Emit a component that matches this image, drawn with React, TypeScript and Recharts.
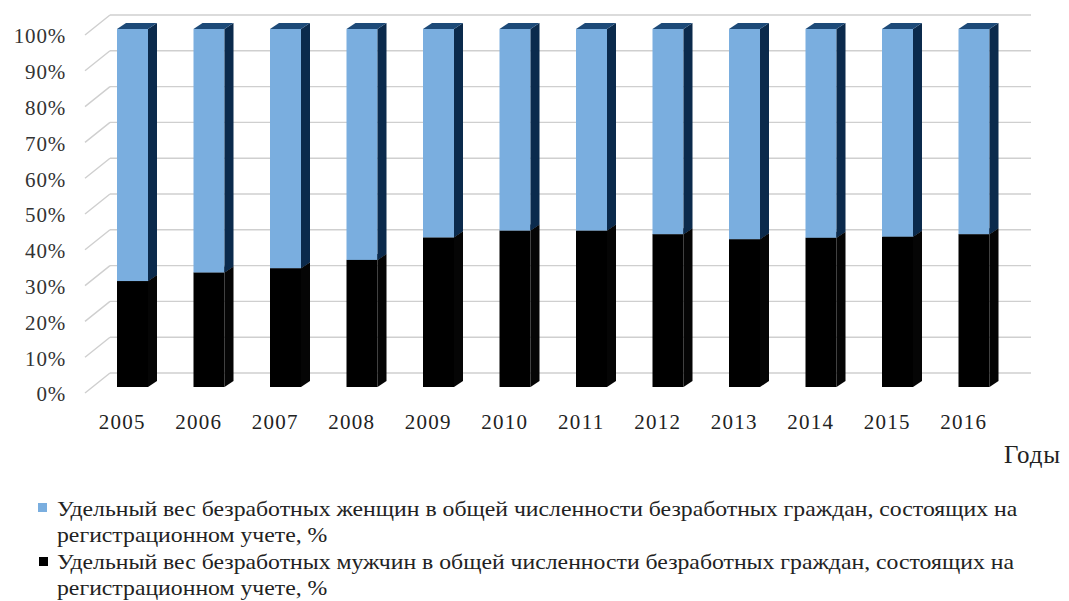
import React from 'react';
import { BarChart, Bar, XAxis, YAxis, CartesianGrid } from 'recharts';

const years = ['2005', '2006', '2007', '2008', '2009', '2010', '2011', '2012', '2013', '2014', '2015', '2016'];
const menShare = [29.6, 32.0, 33.2, 35.5, 41.8, 43.7, 43.7, 42.7, 41.3, 41.7, 42.0, 42.7];
const womenShare = [70.4, 68.0, 66.8, 64.5, 58.2, 56.3, 56.3, 57.3, 58.7, 58.3, 58.0, 57.3];
const yTicks = [0, 10, 20, 30, 40, 50, 60, 70, 80, 90, 100];
const womenLabel = 'Удельный вес безработных женщин в общей численности безработных граждан, состоящих на';
const menLabel = 'Удельный вес безработных мужчин в общей численности безработных граждан, состоящих на';
const labelTail = 'регистрационном учете, %';
const axisTitle = 'Годы';

const data = years.map((year, i) => ({ year, men: menShare[i], women: womenShare[i] }));

const FONT = '"Liberation Serif", "Times New Roman", serif';
const DX = 9;
const DY = 6;

const makeShape = (front: string, side: string, top: string) => (props: any) => {
  const { x, y, width, height } = props;
  if (width == null || height == null) return <g />;
  const r = x + width;
  return (
    <g>
      <rect x={x} y={y} width={width} height={height} fill={front} />
      <polygon
        points={`${r},${y} ${r + DX},${y - DY} ${r + DX},${y + height - DY} ${r},${y + height}`}
        fill={side}
      />
      <polygon
        points={`${x},${y} ${x + DX},${y - DY} ${r + DX},${y - DY} ${r},${y}`}
        fill={top}
      />
    </g>
  );
};

const gridLine = (props: any) => {
  const { x1, y1, x2, key } = props;
  return (
    <g key={key}>
      <line x1={x1 - 9} y1={y1 + 6} x2={x1 + 16} y2={y1 - 14} stroke="#cfcfcf" strokeWidth={1.4} />
      <line x1={x1 + 16} y1={y1 - 14} x2={x2 + 19} y2={y1 - 14} stroke="#cfcfcf" strokeWidth={1.4} />
    </g>
  );
};

const YTick = (props: any) => {
  const { y, payload } = props;
  return (
    <text x={66} y={y + 7} dy="0.35em" textAnchor="end" fontFamily={FONT} fontSize={21} fill="#333" letterSpacing={0.8}>
      {`${payload.value}%`}
    </text>
  );
};

const XTick = (props: any) => {
  const { x, y, payload } = props;
  return (
    <text x={x - 10} y={y + 35} dy="0.35em" textAnchor="middle" fontFamily={FONT} fontSize={21} fill="#222" letterSpacing={1.3}>
      {payload.value}
    </text>
  );
};

export default function App() {
  const legendText: React.CSSProperties = {
    position: 'absolute',
    left: 57,
    fontFamily: FONT,
    fontSize: 21,
    color: '#222',
    whiteSpace: 'nowrap',
    lineHeight: '26px',
    transformOrigin: 'left center',
    transform: 'scaleX(1.13)',
  };
  return (
    <div style={{ position: 'absolute', left: 0, top: 0, width: 1069, height: 601, background: '#fff', overflow: 'hidden' }}>
      <BarChart
        width={1069}
        height={601}
        data={data}
        margin={{ top: 29, right: 57, bottom: 184, left: 34 }}
        barSize={31}
      >
        <CartesianGrid horizontal={gridLine} vertical={false} />
        <YAxis
          width={60}
          domain={[0, 100]}
          ticks={yTicks}
          axisLine={false}
          tickLine={false}
          tickSize={0}
          tickMargin={0}
          tick={<YTick />}
          interval={0}
        />
        <XAxis
          dataKey="year"
          height={30}
          axisLine={false}
          tickLine={false}
          tickSize={0}
          tickMargin={0}
          tick={<XTick />}
          interval={0}
        />
        <Bar dataKey="men" stackId="a" fill="#000000" shape={makeShape('#000000', '#050505', '#111')} isAnimationActive={false} />
        <Bar dataKey="women" stackId="a" fill="#7aaedf" shape={makeShape('#7aaedf', '#0b2a4c', '#1d4a78')} isAnimationActive={false} />
      </BarChart>
      <div style={{ position: 'absolute', left: 1004, top: 441, fontFamily: FONT, fontSize: 25, color: '#222', letterSpacing: 0.8 }}>
        {axisTitle}
      </div>
      <div style={{ position: 'absolute', left: 38, top: 503, width: 9, height: 9, background: '#7aaedf' }} />
      <div style={{ ...legendText, top: 496 }}>{womenLabel}</div>
      <div style={{ ...legendText, top: 522 }}>{labelTail}</div>
      <div style={{ position: 'absolute', left: 39, top: 557, width: 9, height: 9, background: '#000' }} />
      <div style={{ ...legendText, top: 549 }}>{menLabel}</div>
      <div style={{ ...legendText, top: 575 }}>{labelTail}</div>
    </div>
  );
}
